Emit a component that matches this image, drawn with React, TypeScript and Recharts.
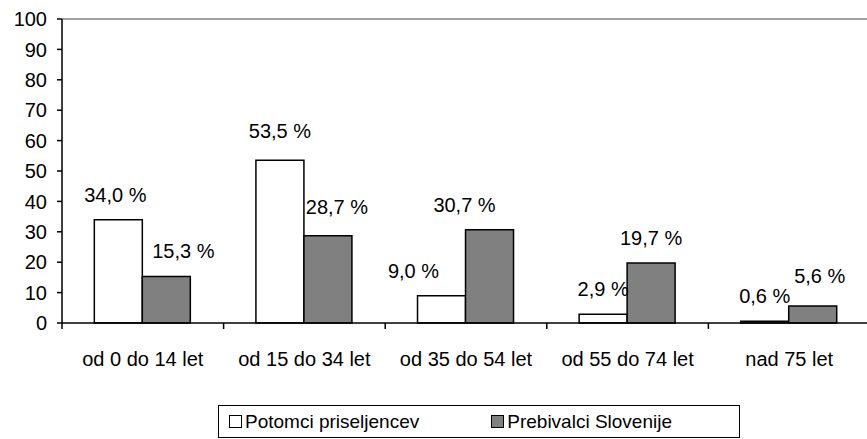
import { BarChart, Bar, XAxis, YAxis, Legend, LabelList, ReferenceLine } from 'recharts';

const CATEGORIES = ['od 0 do 14 let', 'od 15 do 34 let', 'od 35 do 54 let', 'od 55 do 74 let', 'nad 75 let'];
const POTOMCI = [34.0, 53.5, 9.0, 2.9, 0.6];
const PREBIVALCI = [15.3, 28.7, 30.7, 19.7, 5.6];
const Y_TICKS = [0, 10, 20, 30, 40, 50, 60, 70, 80, 90, 100];

const SERIES = [
  { key: 'potomci', name: 'Potomci priseljencev', fill: '#ffffff' },
  { key: 'prebivalci', name: 'Prebivalci Slovenije', fill: '#808080' },
];

// label nudges like in the original sheet (x, y)
const POTOMCI_SHIFT = [[-3, 0], [0, -4], [-28, 0], [0, 0], [0, 0]];
const PREBIVALCI_SHIFT = [[17, 0], [9, -4], [-25, 0], [0, 0], [7, -5]];

const data = CATEGORIES.map((name, i) => ({ name, potomci: POTOMCI[i], prebivalci: PREBIVALCI[i] }));

const FONT = 'Arial, "Liberation Sans", sans-serif';
const BAND = 161.6;

const fmt = (v: number) => `${v.toFixed(1).replace('.', ',')} %`;

function makeLabel(shift: number[][]) {
  return (props: any) => {
    const { x, y, width, value, index } = props;
    const [dx, dy] = shift[index] || [0, 0];
    return (
      <text x={x + width / 2 + dx} y={y - 18 + dy} textAnchor="middle" fontSize={20} fontFamily={FONT} fill="#000">
        {fmt(value)}
      </text>
    );
  };
}

function CategoryTick(props: any) {
  const { x, y, payload } = props;
  const left = x - BAND / 2;
  return (
    <g>
      <line x1={left} y1={y} x2={left} y2={y + 6} stroke="#000" strokeWidth={1.5} />
      <text x={x} y={y + 43} textAnchor="middle" fontSize={20} fontFamily={FONT} fill="#000">
        {payload.value}
      </text>
    </g>
  );
}

function LegendBox() {
  return (
    <div
      style={{
        boxSizing: 'border-box',
        height: 33,
        width: 522,
        border: '1.5px solid #000',
        display: 'flex',
        alignItems: 'center',
        fontFamily: FONT,
        fontSize: 19,
        color: '#000',
        background: '#fff',
      }}
    >
      {SERIES.map((s, i) => (
        <div key={s.key} style={{ display: 'flex', alignItems: 'center', marginLeft: i === 0 ? 10 : 72 }}>
          <span style={{ display: 'inline-block', width: 11, height: 11, border: '1.5px solid #000', background: s.fill, marginRight: 3 }} />
          <span>{s.name}</span>
        </div>
      ))}
    </div>
  );
}

export default function App() {
  return (
    <div style={{ position: 'absolute', left: 0, top: 0, width: 867, height: 439, overflow: 'hidden', background: '#fff', fontFamily: FONT }}>
      <BarChart width={872} height={439} data={data} margin={{ top: 19, right: 2, left: 0, bottom: 0 }} barCategoryGap="20%" barGap={0}>
        <ReferenceLine y={100} stroke="#808080" strokeWidth={1.5} />
        <XAxis
          dataKey="name"
          height={83}
          axisLine={{ stroke: '#000', strokeWidth: 1.5 }}
          tickLine={false}
          tickSize={0}
          tickMargin={0}
          interval={0}
          tick={<CategoryTick />}
        />
        <YAxis
          width={62}
          domain={[0, 100]}
          ticks={Y_TICKS}
          interval={0}
          axisLine={{ stroke: '#000', strokeWidth: 1.5 }}
          tickLine={{ stroke: '#000', strokeWidth: 1.5 }}
          tickSize={5}
          tickMargin={10}
          tick={{ fill: '#000', fontSize: 20, fontFamily: FONT }}
        />
        <Legend verticalAlign="bottom" content={<LegendBox />} wrapperStyle={{ left: 218, top: 405, width: 522, height: 33 }} />
        <Bar dataKey="potomci" name={SERIES[0].name} fill={SERIES[0].fill} stroke="#000" strokeWidth={1.5} isAnimationActive={false}>
          <LabelList dataKey="potomci" content={makeLabel(POTOMCI_SHIFT)} />
        </Bar>
        <Bar dataKey="prebivalci" name={SERIES[1].name} fill={SERIES[1].fill} stroke="#000" strokeWidth={1.5} isAnimationActive={false}>
          <LabelList dataKey="prebivalci" content={makeLabel(PREBIVALCI_SHIFT)} />
        </Bar>
      </BarChart>
    </div>
  );
}
